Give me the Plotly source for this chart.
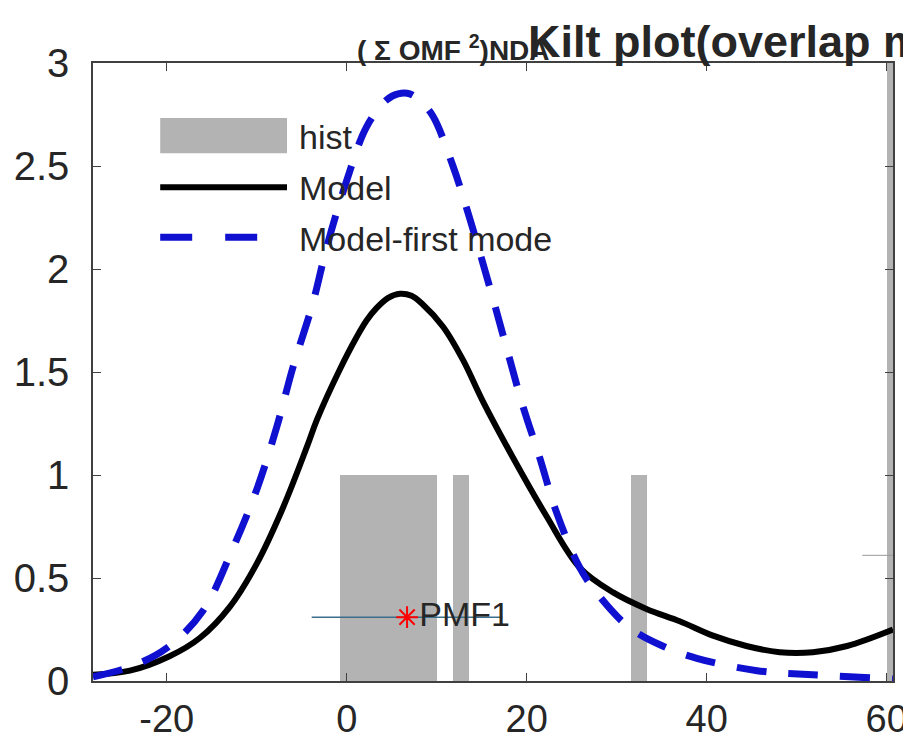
import plotly.graph_objects as go

# --- data ---
hist_centers = [0.1, 1.9, 3.7, 5.5, 7.3, 9.1, 12.7, 32.5, 61.0]
hist_widths = [1.8, 1.8, 1.8, 1.8, 1.8, 1.8, 1.8, 1.8, 2.0]
hist_counts = [1, 1, 1, 1, 1, 1, 1, 1, 4]

model_x = [-28.2, -24.1, -19.7, -16.3, -13.0, -10.0, -7.1, -4.4, -3.3, -0.8, 1.1, 2.2, 3.3,
           4.6, 5.9, 7.2, 8.4, 10.7, 12.9, 15.1, 18.4, 22.2, 25.9, 29.6, 33.3, 37.0, 40.7,
           44.4, 48.1, 51.8, 55.6, 60.7]
model_y = [0.03, 0.05, 0.12, 0.21, 0.36, 0.57, 0.84, 1.14, 1.27, 1.51, 1.67, 1.75, 1.81,
           1.86, 1.88, 1.87, 1.83, 1.72, 1.56, 1.36, 1.09, 0.80, 0.55, 0.43, 0.35, 0.29, 0.22,
           0.17, 0.14, 0.14, 0.17, 0.25]

first_x = [-28.2, -24.0, -20.0, -16.0, -12.7, -10.0, -7.8, -6.0, -3.8, -2.2, 0.0, 2.2, 4.4,
           5.7, 7.0, 8.3, 9.6, 11.8, 13.7, 15.9, 17.8, 19.6, 21.4, 23.3, 25.9, 28.1, 31.4,
           35.1, 38.9, 45.6, 51.8, 60.7]
first_y = [0.02, 0.07, 0.16, 0.34, 0.64, 0.93, 1.23, 1.52, 1.83, 2.11, 2.43, 2.69, 2.82,
           2.85, 2.85, 2.81, 2.74, 2.50, 2.24, 1.91, 1.61, 1.33, 1.09, 0.82, 0.55, 0.41, 0.26,
           0.17, 0.11, 0.05, 0.03, 0.01]

pmf_x = [6.7]
pmf_y = [0.31]
pmf_err = [10.6]
pmf_label = "PMF1"

side_x = [57.3, 60.7]
side_y = [0.61, 0.61]

x_ticks = [-20, 0, 20, 40, 60]
x_tick_text = ["-20", "0", "20", "40", "60"]
y_ticks = [0, 0.5, 1, 1.5, 2, 2.5, 3]

FONT = "Liberation Sans, Arial, sans-serif"
TXT = "#262626"
GRAY = "#b3b3b3"

fig = go.Figure()

fig.add_trace(go.Bar(x=hist_centers, y=hist_counts, width=hist_widths,
                     marker=dict(color=GRAY, line=dict(width=0)), showlegend=False))

fig.add_trace(go.Scatter(x=model_x, y=model_y, mode="lines", showlegend=False,
                         line=dict(color="black", width=6, shape="spline", smoothing=1)))

fig.add_trace(go.Scatter(x=first_x, y=first_y, mode="lines", showlegend=False,
                         line=dict(color="#1010d0", width=7, shape="spline", smoothing=1,
                                   dash="30px,22px")))

fig.add_trace(go.Scatter(x=pmf_x, y=pmf_y, mode="markers+text", showlegend=False,
                         text=[pmf_label], textposition="middle right",
                         textfont=dict(family=FONT, size=34, color=TXT),
                         error_x=dict(type="data", array=pmf_err, color="#3d6e8c",
                                      thickness=1.5, width=0),
                         marker=dict(symbol="asterisk-open", size=18, color="red",
                                     line=dict(color="red", width=2))))

fig.add_trace(go.Scatter(x=side_x, y=side_y, mode="lines", showlegend=False,
                         line=dict(color="#999999", width=1)))

# --- hand-made legend, MATLAB style (box off) ---
lx0, lx1 = 0.084, 0.2425
fig.add_shape(type="rect", xref="paper", yref="paper", x0=lx0, x1=lx1, y0=0.854, y1=0.911,
              fillcolor=GRAY, line=dict(width=0))
fig.add_shape(type="line", xref="paper", yref="paper", x0=lx0, x1=lx1, y0=0.799, y1=0.799,
              line=dict(color="black", width=6))
fig.add_shape(type="line", xref="paper", yref="paper", x0=lx0, x1=lx1, y0=0.718, y1=0.718,
              line=dict(color="#1010d0", width=7, dash="32px,33px"))
for txt, yy in [("hist", 0.881), ("Model", 0.797), ("Model-first mode", 0.716)]:
    fig.add_annotation(text=txt, xref="paper", yref="paper", x=0.255, y=yy,
                       xanchor="left", yanchor="middle", showarrow=False,
                       font=dict(family=FONT, size=34, color=TXT))

# --- overlapping title texts ---
fig.add_annotation(text="<b>( Σ OMF <sup>2</sup>)NDA</b>", xref="paper", yref="paper",
                   x=0.3275, y=1.025, xanchor="left", yanchor="middle", showarrow=False,
                   font=dict(family=FONT, size=28, color=TXT))
fig.add_annotation(text="<b>Kilt plot(overlap mode)</b>", xref="paper", yref="paper",
                   x=0.541, y=1.035, xanchor="left", yanchor="middle", showarrow=False,
                   font=dict(family=FONT, size=45, color=TXT))

axis_common = dict(showgrid=False, zeroline=False, showline=True, linecolor="#404040",
                   linewidth=1.5, mirror="ticks", ticks="inside", ticklen=8,
                   tickcolor="#404040", automargin=False)

fig.update_xaxes(range=[-28.2, 60.7], tickvals=x_ticks, ticktext=x_tick_text,
                 ticklabelstandoff=4, tickfont=dict(family=FONT, size=38, color=TXT),
                 **axis_common)
fig.update_yaxes(range=[0, 3], tickvals=y_ticks, ticklabelstandoff=14,
                 tickfont=dict(family=FONT, size=40, color=TXT), **axis_common)

# the page puts the figure 8px in from the top-left, so margins absorb that offset
fig.update_layout(width=911, height=748, margin=dict(l=85, r=26, t=55, b=75),
                  paper_bgcolor="white", plot_bgcolor="white", bargap=0, showlegend=False)

fig.write_html("out.html")
